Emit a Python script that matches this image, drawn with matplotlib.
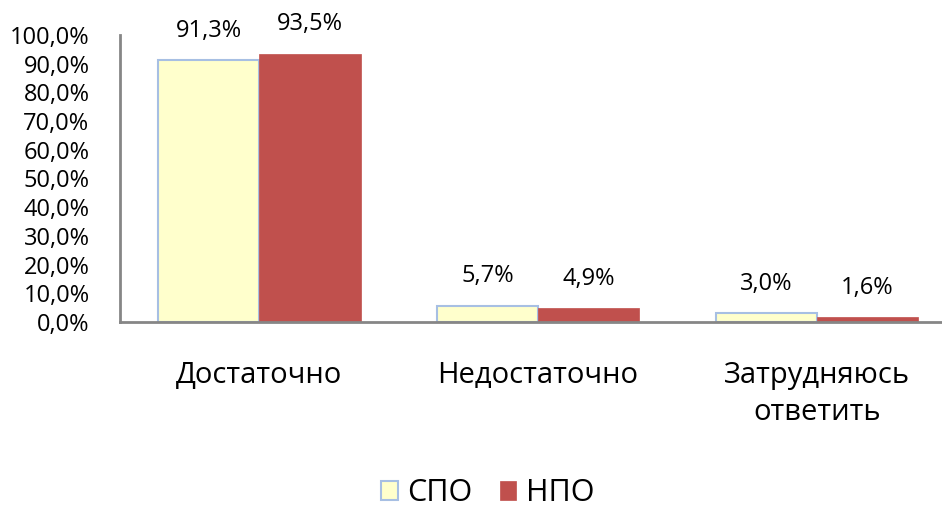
import matplotlib
matplotlib.use("Agg")
import matplotlib.pyplot as plt
import numpy as np

categories = ["Достаточно", "Недостаточно", "Затрудняюсь\nответить"]
series_names = ["СПО", "НПО"]
spo = [91.3, 5.7, 3.0]
npo = [93.5, 4.9, 1.6]
yticks = list(range(0, 101, 10))

plt.rcParams['font.family'] = ['Open Sans', 'DejaVu Sans']

fig = plt.figure(figsize=(9.42, 5.07), dpi=100)
ax = fig.add_axes([0.1274, 0.365, 0.8875, 0.566])

x = np.arange(len(categories))
w = 0.363
b1 = ax.bar(x - w/2, spo, w, color="#FFFFCC", edgecolor="#A7BFE3", linewidth=1.5, label=series_names[0])
b2 = ax.bar(x + w/2, npo, w, color="#C0504D", edgecolor="#C0504D", linewidth=0.5, label=series_names[1])

for bars, vals in ((b1, spo), (b2, npo)):
    for r, v in zip(bars, vals):
        ax.annotate(f"{v:.1f}%".replace(".", ","), (r.get_x() + r.get_width()/2, v),
                    xytext=(0, 21), textcoords="offset points", ha="center", va="center",
                    fontsize=17, color="#000000", annotation_clip=False)

ax.set_xlim(-0.5, 2.5)
ax.set_ylim(0, 100)
ax.set_yticks(yticks)
ax.set_yticklabels([f"{t:.1f}%".replace(".", ",") for t in yticks], fontsize=17)
ax.set_xticks(x)
ax.set_xticklabels(categories, fontsize=21, linespacing=1.38)
ax.tick_params(axis="both", length=0)
ax.tick_params(axis="x", pad=28)
ax.tick_params(axis="y", pad=22)
for s in ("top", "right"):
    ax.spines[s].set_visible(False)
for s in ("left", "bottom"):
    ax.spines[s].set_color("#868686")
    ax.spines[s].set_linewidth(2)

fig.legend(handles=[b1, b2], labels=series_names, loc="center", bbox_to_anchor=(0.5175, 0.027),
           ncol=2, frameon=False, fontsize=22, handlelength=0.55, handleheight=0.55,
           handletextpad=0.3, columnspacing=0.9)

fig.savefig("out.png", dpi=100)
